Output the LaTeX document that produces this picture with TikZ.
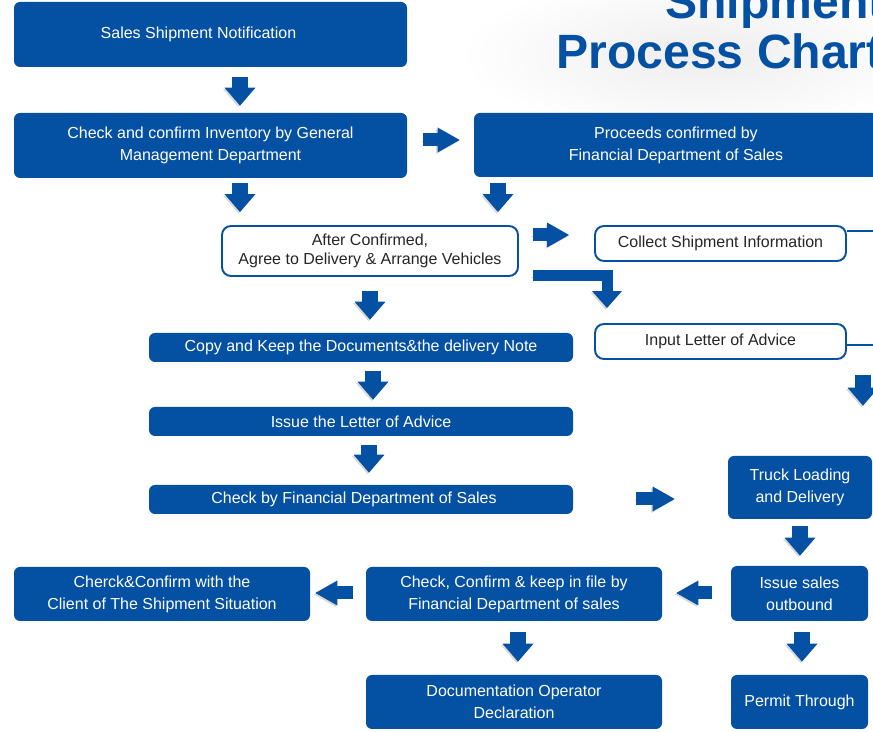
\documentclass[tikz,border=0pt]{standalone}
\usepackage{fontspec}
\setmainfont{Liberation Sans}
\usetikzlibrary{arrows.meta,calc}
\newdimen\pxl \pxl=0.02cm
\definecolor{boxblue}{RGB}{4,80,162}
\newcommand{\boxfont}{\fontsize{9.1pt}{12.6pt}\selectfont}
\newcommand{\linefont}{\fontsize{9.1pt}{11pt}\selectfont}
\tikzstyle{ttl} = [text=boxblue, font=\fontsize{27.4pt}{31pt}\selectfont\bfseries, inner sep=0pt, anchor=base west]
\tikzstyle{bluebox} = [fill=boxblue, rounded corners=6\pxl, text=white, align=center, font=\boxfont, inner sep=0pt]
\tikzstyle{linebox} = [draw=boxblue, line width=1.1pt, fill=white, rounded corners=9\pxl, text=black!85, align=center, font=\linefont, inner sep=0pt]
\tikzstyle{bshade} = [preaction={draw=black!15, transform canvas={shift={(-1.5\pxl,-1.5\pxl)}}}]
\tikzstyle{bdown} = [draw=boxblue, line width=16\pxl, -{Triangle[width=0.62cm,length=0.36cm,line width=0pt]}, bshade]
\tikzstyle{bside} = [draw=boxblue, line width=13\pxl, -{Triangle[width=0.5cm,length=0.44cm,line width=0pt]}, bshade]
\tikzstyle{link} = [draw=boxblue, line width=0.8pt]

\begin{document}
\begin{tikzpicture}[x=\pxl, y=-\pxl]
    \useasboundingbox (0,0) rectangle (873,732);
    \clip (0,0) rectangle (873,732);
    \shade[inner color=black!7, outer color=white] (700,55) ellipse [x radius=240, y radius=80];
    \node[ttl](ttl1) at (665,19){Shipment};
    \node[ttl](ttl2) at (556,69){Process Chart};
    % boxes
    \node[bluebox, minimum width=393\pxl, minimum height=65\pxl](note) at (210.5,34.5){Sales Shipment Notification\hspace{24\pxl}};
    \node[bluebox, minimum width=393\pxl, minimum height=65\pxl](inv) at (210.5,145.5){Check and confirm Inventory by General\\Management Department};
    \node[bluebox, minimum width=404\pxl, minimum height=64\pxl](proc) at (676,145){Proceeds confirmed by\\Financial Department of Sales};
    \node[linebox, minimum width=296\pxl, minimum height=50\pxl](after) at (370,251){After Confirmed,\\Agree to Delivery \& Arrange Vehicles};
    \node[linebox, minimum width=251\pxl, minimum height=35\pxl](collect) at (720.5,243.5){Collect Shipment Information};
    \node[linebox, minimum width=251\pxl, minimum height=35\pxl](input) at (720.5,341.5){Input Letter of Advice};
    \node[bluebox, minimum width=424\pxl, minimum height=29\pxl](copy) at (361,347.5){Copy and Keep the Documents\&the delivery Note};
    \node[bluebox, minimum width=424\pxl, minimum height=29\pxl](issue) at (361,421.5){Issue the Letter of Advice};
    \node[bluebox, minimum width=424\pxl, minimum height=29\pxl](check) at (361,499.5){Check by Financial Department of Sales\hspace{14\pxl}};
    \node[bluebox, minimum width=144\pxl, minimum height=63\pxl](truck) at (800,487.5){Truck Loading\\and Delivery};
    \node[bluebox, minimum width=137\pxl, minimum height=55\pxl](outbound) at (799.5,593.5){Issue sales\\outbound};
    \node[bluebox, minimum width=137\pxl, minimum height=54\pxl](permit) at (799.5,702){Permit Through};
    \node[bluebox, minimum width=296\pxl, minimum height=54\pxl](confirm) at (514,594){Check, Confirm \& keep in file by\\Financial Department of sales};
    \node[bluebox, minimum width=296\pxl, minimum height=54\pxl](docop) at (514,702){Documentation Operator\\Declaration};
    \node[bluebox, minimum width=296\pxl, minimum height=54\pxl](client) at (162,594){Cherck\&Confirm with the\\Client of The Shipment Situation};
    % thin links to the right edge
    \coordinate(redge1) at (880,231);
    \coordinate(redge2) at (880,345);
    \draw[link](collect.east |- redge1)--(redge1);
    \draw[link](input.east |- redge2)--(redge2);
    % block arrows
    \draw[bdown, shorten <=10\pxl, shorten >=7\pxl](note.south -| 240,0)--(inv.north -| 240,0);
    \draw[bside, shorten <=16\pxl, shorten >=14\pxl](inv.east |- 0,140)--(proc.west |- 0,140);
    \draw[bdown, shorten <=5\pxl, shorten >=13\pxl](inv.south -| 240,0)--(after.north -| 240,0);
    \draw[bdown, shorten <=6\pxl, shorten >=13\pxl](proc.south -| 498,0)--(after.north -| 498,0);
    \draw[bside, shorten <=14\pxl, shorten >=25\pxl](after.east |- 0,235)--(collect.west |- 0,235);
    \draw[bside, line width=11\pxl, -{Triangle[width=0.6cm,length=0.34cm,line width=0pt]}, shorten <=14\pxl, shorten >=15\pxl](after.east |- 0,276) -| (input.north -| 607,0);
    \draw[bdown, shorten <=14\pxl, shorten >=13\pxl](after.south -| 370,0)--(copy.north -| 370,0);
    \draw[bdown, shorten <=9\pxl, shorten >=7\pxl](copy.south -| 373,0)--(issue.north -| 373,0);
    \draw[bdown, shorten <=9\pxl, shorten >=12\pxl](issue.south -| 369,0)--(check.north -| 369,0);
    \draw[bside, shorten <=63\pxl, shorten >=53\pxl](check.east |- 0,499)--(truck.west |- 0,499);
    \coordinate(rtop) at (863,375);
    \draw[bdown, shorten >=50\pxl](rtop)--(truck.north -| rtop);
    \draw[bdown, shorten <=7\pxl, shorten >=10\pxl](truck.south -| 800,0)--(outbound.north -| 800,0);
    \draw[bside, shorten <=19\pxl, shorten >=14\pxl](outbound.west |- 0,593)--(confirm.east |- 0,593);
    \draw[bside, shorten <=13\pxl, shorten >=5\pxl](confirm.west |- 0,593)--(client.east |- 0,593);
    \draw[bdown, shorten <=11\pxl, shorten >=13\pxl](confirm.south -| 518,0)--(docop.north -| 518,0);
    \draw[bdown, shorten <=11\pxl, shorten >=13\pxl](outbound.south -| 802,0)--(permit.north -| 802,0);
  \end{tikzpicture}
\end{document}
